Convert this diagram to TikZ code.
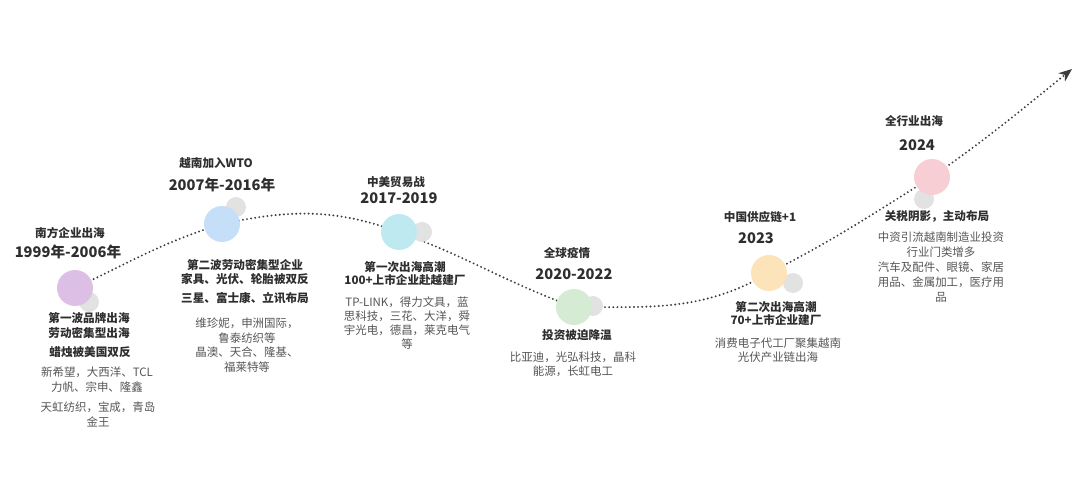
\documentclass[tikz,border=0pt]{standalone}
\usepackage{fontspec}
\setmainfont{Noto Sans CJK SC}
\usetikzlibrary{arrows.meta}
\definecolor{cpurple}{HTML}{DDBFE5}
\definecolor{cblue}{HTML}{C6DFF8}
\definecolor{ccyan}{HTML}{BFE9F0}
\definecolor{cgreen}{HTML}{D5EBD3}
\definecolor{corange}{HTML}{FCE3BA}
\definecolor{cpink}{HTML}{F7CED4}
\definecolor{cgray}{HTML}{E2E2E2}
\definecolor{thead}{HTML}{2E2E2E}
\definecolor{tbody}{HTML}{555555}
\definecolor{cline}{HTML}{3C3C3C}
\begin{document}
\begin{tikzpicture}[x=0.75pt,y=0.75pt,
  dot/.style={circle,inner sep=0pt,minimum size=27pt,draw=none},
  shade/.style={circle,inner sep=0pt,minimum size=15pt,fill=cgray,draw=none},
  head/.style={inner sep=0pt,align=center,text=thead,font=\fontsize{8.7}{9.9}\selectfont\bfseries},
  year/.style={inner sep=0pt,align=center,text=thead,font=\fontsize{11}{13}\selectfont\bfseries},
  body/.style={inner sep=0pt,align=center,text=tbody,font=\fontsize{8.6}{10.8}\selectfont},
  curve/.style={draw=cline,line width=1.6pt,line cap=round,dash pattern=on 0pt off 3.1pt}]
\useasboundingbox (0,0) rectangle (1080,496);
% circles (positions)
\coordinate (c1) at (75,208);
\coordinate (c2) at (222,272);
\coordinate (c3) at (399,264);
\coordinate (c4) at (574,189);
\coordinate (c5) at (769,223);
\coordinate (c6) at (932,319);
\coordinate (tip) at (1072,427);
% dotted timeline
\draw[curve,-{Stealth[length=10pt,width=8pt,inset=3pt,line cap=butt,line width=0pt]}] (c1) to[out=25,in=197] (c2)
  to[out=12,in=160] (c3)
  to[out=-20,in=160] (c4)
  to[out=0,in=210] (c5)
  to[out=27,in=212] (c6)
  to[out=35,in=219] (tip);
% gray shadow circles
\node[shade] (g1) at (89,194) {};
\node[shade] (g2) at (236,289) {};
\node[shade] (g3) at (422,264) {};
\node[shade] (g4) at (593,190) {};
\node[shade] (g5) at (793,213) {};
\node[shade] (g6) at (924,297) {};
% coloured circles
\node[dot,fill=cpurple] (d1) at (c1) {};
\node[dot,fill=cblue] (d2) at (c2) {};
\node[dot,fill=ccyan] (d3) at (c3) {};
\node[dot,fill=cgreen] (d4) at (c4) {};
\node[dot,fill=corange] (d5) at (c5) {};
\node[dot,fill=cpink] (d6) at (c6) {};
% group 1
\node[head] (t1) at (70,263) {南方企业出海};
\node[year] (y1) at (68,244) {1999年-2006年};
\node[head,font=\fontsize{8.7}{11.25}\selectfont\bfseries] (a1) at (89,170.5) {第一波品牌出海\\劳动密集型出海};
\node[head] (b1) at (90,144) {蜡烛被美国双反};
\node[body,font=\fontsize{8.6}{11.25}\selectfont] (e1) at (97,116.5) {新希望，大西洋、TCL\\力帆、宗申、隆鑫};
\node[body,font=\fontsize{8.6}{11.25}\selectfont] (f1) at (98,81.5) {天虹纺织，宝成，青岛\\金王};
% group 2
\node[head] (t2) at (216,333) {越南加入WTO};
\node[year] (y2) at (222,311) {2007年-2016年};
\node[head,font=\fontsize{8.7}{10.5}\selectfont\bfseries] (a2) at (245,224) {第二波劳动密集型企业\\家具、光伏、轮胎被双反};
\node[head] (b2) at (245,198) {三星、富士康、立讯布局};
\node[body,font=\fontsize{8.6}{11}\selectfont] (e2) at (247,151) {维珍妮，申洲国际，\\鲁泰纺织等\\晶澳、天合、隆基、\\福莱特等};
% group 3
\node[head] (t3) at (396,314) {中美贸易战};
\node[year] (y3) at (399,298) {2017-2019};
\node[head,font=\fontsize{8.7}{9.75}\selectfont\bfseries] (a3) at (405,222.5) {第一次出海高潮\\100+上市企业赴越建厂};
\node[body,font=\fontsize{8.6}{10.5}\selectfont] (e3) at (407,172.5) {TP-LINK，得力文具，蓝\\思科技，三花、大洋，舜\\宇光电，德昌，莱克电气\\等};
% group 4
\node[head] (t4) at (567,243) {全球疫情};
\node[year] (y4) at (574,222) {2020-2022};
\node[head] (a4) at (577,161) {投资被迫降温};
\node[body,font=\fontsize{8.6}{10.5}\selectfont] (e4) at (573,132) {比亚迪，光弘科技，晶科\\能源，长虹电工};
% group 5
\node[head] (t5) at (760,279) {中国供应链+1};
\node[year] (y5) at (756,258) {2023};
\node[head,font=\fontsize{8.7}{9.75}\selectfont\bfseries] (a5) at (776,182.5) {第二次出海高潮\\70+上市企业建厂};
\node[body,font=\fontsize{8.6}{10.5}\selectfont] (e5) at (778,146) {消费电子代工厂聚集越南\\光伏产业链出海};
% group 6
\node[head] (t6) at (914,375) {全行业出海};
\node[year] (y6) at (917,351) {2024};
\node[head] (a6) at (937,280) {关税阴影，主动布局};
\node[body,font=\fontsize{8.6}{11.25}\selectfont] (e6) at (941,229) {中资引流越南制造业投资\\行业门类增多\\汽车及配件、眼镜、家居\\用品、金属加工，医疗用\\品};
\end{tikzpicture}
\end{document}
